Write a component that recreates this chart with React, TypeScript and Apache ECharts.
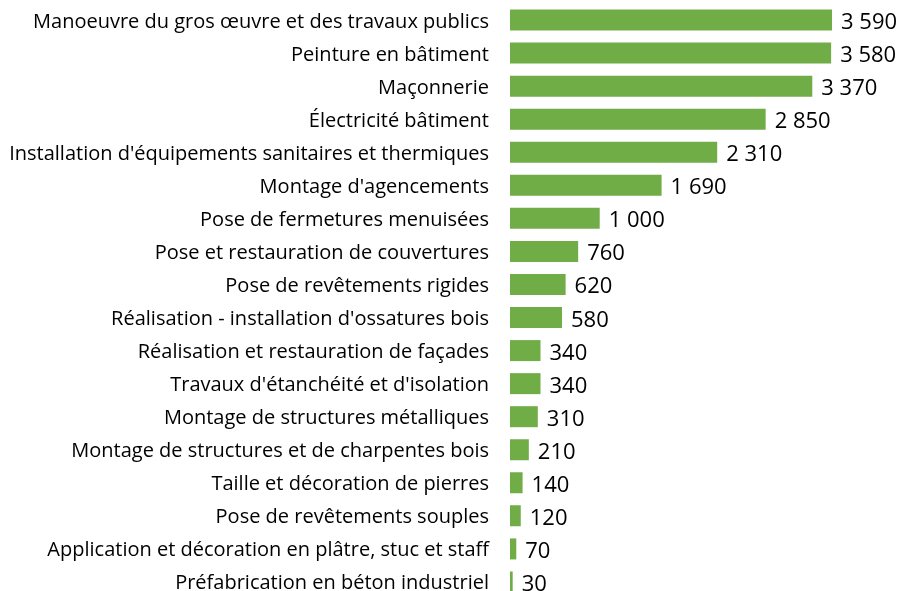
import React, { useEffect, useRef } from "react";
import * as echarts from "echarts";

const categories = [
  "Manoeuvre du gros œuvre et des travaux publics",
  "Peinture en bâtiment",
  "Maçonnerie",
  "Électricité bâtiment",
  "Installation d'équipements sanitaires et thermiques",
  "Montage d'agencements",
  "Pose de fermetures menuisées",
  "Pose et restauration de couvertures",
  "Pose de revêtements rigides",
  "Réalisation - installation d'ossatures bois",
  "Réalisation et restauration de façades",
  "Travaux d'étanchéité et d'isolation",
  "Montage de structures métalliques",
  "Montage de structures et de charpentes bois",
  "Taille et décoration de pierres",
  "Pose de revêtements souples",
  "Application et décoration en plâtre, stuc et staff",
  "Préfabrication en béton industriel",
];

const values = [3590, 3580, 3370, 2850, 2310, 1690, 1000, 760, 620, 580, 340, 340, 310, 210, 140, 120, 70, 30];

const fmt = (v: number) => String(v).replace(/\B(?=(\d{3})+(?!\d))/g, " ");

export default function App() {
  const ref = useRef<HTMLDivElement>(null);
  useEffect(() => {
    const chart = echarts.init(ref.current!, null, { renderer: "svg" });
    chart.setOption({
      animation: false,
      grid: { left: 510, top: 3.5, width: 358.8, height: 595, containLabel: false },
      xAxis: {
        type: "value",
        min: 0,
        max: 4000,
        show: false,
      },
      yAxis: {
        type: "category",
        inverse: true,
        data: categories,
        axisLine: { show: false },
        axisTick: { show: false },
        axisLabel: {
          margin: 21,
          color: "#000",
          fontSize: 20,
          fontFamily: "Open Sans",
        },
      },
      series: [
        {
          type: "bar",
          data: values,
          barWidth: 21,
          itemStyle: { color: "#70AD47" },
          label: {
            show: true,
            position: "right",
            distance: 9,
            color: "#000",
            fontSize: 22,
            fontFamily: "Open Sans",
            formatter: (p: any) => fmt(p.value),
          },
        },
      ],
    });
    return () => chart.dispose();
  }, []);
  return (
    <div
      ref={ref}
      style={{ position: "fixed", left: 0, top: 0, width: 901, height: 620 }}
    />
  );
}
